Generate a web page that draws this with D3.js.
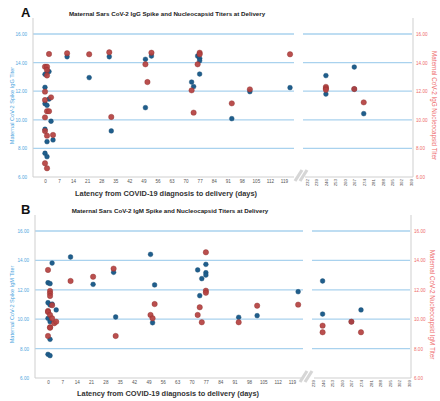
<!DOCTYPE html>
<html><head><meta charset="utf-8">
<script src="https://cdn.jsdelivr.net/npm/d3@7"></script>
<style>
body{margin:0;background:#fff;}
svg{display:block;font-family:"Liberation Sans",Arial,sans-serif;}
</style></head>
<body><svg id="c" width="440" height="401"></svg>
<script>
// ---------- DATA ----------
const yTicks = [6, 8, 10, 12, 14, 16];
const xTicksSeg1 = [0, 7, 14, 21, 28, 35, 42, 49, 56, 63, 70, 77, 84, 91, 98, 105, 112, 119];
const xTicksSeg2A = [232, 239, 246, 253, 260, 267, 274, 281, 288, 295, 302, 309];
const xTicksSeg2B = [239, 246, 253, 260, 267, 274, 281, 288, 295, 302, 309];

// Panel A: IgG  [latency days, titer]
const spikeIgG = [
  [1,13.3],[2,13.37],[0,13.18],[0,12.27],[2,11.45],[0,11.13],[1,11.01],[3,9.9],[0,9.34],
  [1,8.47],[4,8.59],[0,7.66],[1,7.42],
  [11,14.41],[22,12.95],[32,14.41],[33,9.22],[50,14.23],[53,14.46],[50,10.85],
  [73,12.64],[74,12.32],[76,14.46],[77,14.3],[77,14.13],[77,13.2],
  [93,10.08],[102,11.97],[122,12.25],
  [246,13.09],[246,11.8],[267,13.69],[267,12.15],[274,10.43]
];
const nucleoIgG = [
  [2,14.6],[0,13.71],[1,13.71],[1,13.48],[1,13.1],[0,11.97],[3,11.57],[0,11.38],
  [1,10.6],[2,10.6],[0,10.17],[0,9.22],[1,8.89],[4,8.94],[0,6.96],[1,6.61],
  [11,14.65],[22,14.58],[32,14.72],[33,10.2],
  [50,13.88],[53,14.69],[51,12.64],
  [73,12.06],[74,10.5],[77,14.69],[77,14.58],[76,13.88],
  [93,11.15],[102,12.13],[122,14.58],
  [246,12.3],[246,12.2],[246,12.1],[267,12.15],[274,11.22]
];

// Panel B: IgM
const spikeIgM = [
  [2,13.82],[0,12.48],[1,12.42],[0,11.12],[1,10.97],[2,11.03],[4,10.63],[0,10.06],
  [1,9.83],[1,8.63],[0,7.61],[1,7.52],
  [11,14.23],[22,12.37],[32,13.19],[33,10.15],[50,14.41],[51,9.76],[52,12.33],
  [73,13.35],[77,13.73],[77,13.16],[77,13.0],[75,12.76],[74,11.6],
  [93,10.13],[102,10.24],[122,11.87],
  [246,12.6],[246,10.35],[267,9.83],[274,10.63]
];
const nucleoIgM = [
  [0,13.35],[1,11.92],[1,11.76],[1,11.58],[2,10.95],[0,10.56],[0,10.49],[1,10.29],
  [2,10.06],[3,9.72],[4,9.83],[1,9.45],[1,9.42],[0,8.86],
  [11,12.6],[22,12.89],[32,13.44],[33,8.86],
  [50,10.29],[51,10.06],[52,11.03],
  [77,14.55],[77,11.94],[77,11.8],[74,10.81],[73,10.29],[75,9.79],
  [93,9.79],[102,10.92],[122,10.99],
  [246,9.56],[246,9.11],[267,9.83],[274,9.11]
];

const titleA = "Maternal Sars CoV-2 IgG Spike and Nucleocapsid Titers at Delivery";
const titleB = "Maternal Sars CoV-2 IgM Spike and Nucleocapsid Titers at Delivery";
const xTitle = "Latency from COVID-19 diagnosis to delivery (days)";

// ---------- STYLE ----------
const BLUE = "#1f5e8c", RED = "#b4403f";
const GRID = "#a9d2ee", LBLUE = "#4ea6de", LRED = "#ee6a6a", AX = "#cfcfcf";

const svg = d3.select("#c");

function panel(o){
  const g = svg.append("g");
  const y = d3.scaleLinear().domain([6,16]).range([o.bottom, o.top16]);
  const x1 = d3.scaleLinear().domain([0,119]).range(o.x1r);
  const x2 = d3.scaleLinear().domain([o.seg2[0], 309]).range(o.x2r);
  const xp = d => d < 200 ? x1(d) : x2(d);

  // grid
  yTicks.slice(1).forEach(t => {
    g.append("line").attr("x1", o.left).attr("x2", o.seg1End).attr("y1", y(t)).attr("y2", y(t))
      .attr("stroke", GRID).attr("stroke-width", 1.3);
    g.append("line").attr("x1", o.seg2Start).attr("x2", o.right - 1).attr("y1", y(t)).attr("y2", y(t))
      .attr("stroke", GRID).attr("stroke-width", 1.3);
  });

  // axes lines
  g.append("line").attr("x1", o.left).attr("x2", o.left).attr("y1", o.axTop).attr("y2", o.bottom).attr("stroke", AX);
  g.append("line").attr("x1", o.right).attr("x2", o.right).attr("y1", o.axTop).attr("y2", o.bottom).attr("stroke", AX);

  // left y axis
  const ly = g.append("g").attr("transform", `translate(${o.left},0)`)
    .call(d3.axisLeft(y).tickValues(yTicks).tickSize(0).tickPadding(6).tickFormat(d3.format(".2f")));
  ly.select(".domain").remove();
  ly.selectAll("text").attr("fill", LBLUE).style("font-size", "4.6px");

  const ry = g.append("g").attr("transform", `translate(${o.right},0)`)
    .call(d3.axisRight(y).tickValues(yTicks).tickSize(0).tickPadding(3).tickFormat(d3.format(".2f")));
  ry.select(".domain").remove();
  ry.selectAll("text").attr("fill", LRED).style("font-size", "4.6px");

  // x axis seg1
  const ax1 = g.append("g").attr("transform", `translate(0,${o.bottom})`)
    .call(d3.axisBottom(x1).tickValues(xTicksSeg1).tickSize(0).tickPadding(3));
  ax1.select(".domain").remove();
  ax1.selectAll("text").attr("fill", "#555").style("font-size", "4.6px");
  g.append("line").attr("x1", o.left).attr("x2", o.seg1End).attr("y1", o.bottom).attr("y2", o.bottom).attr("stroke", AX);

  const ax2 = g.append("g").attr("transform", `translate(0,${o.bottom})`)
    .call(d3.axisBottom(x2).tickValues(o.seg2).tickSize(0).tickPadding(0));
  ax2.select(".domain").remove();
  ax2.selectAll("text").attr("fill", "#555").style("font-size", "4.4px")
    .attr("text-anchor", "end").attr("dy", "0.32em").attr("transform", "translate(0,2) rotate(-90)").attr("y", 0).attr("x", 0);
  g.append("line").attr("x1", o.seg2Start + 2).attr("x2", o.right).attr("y1", o.bottom).attr("y2", o.bottom).attr("stroke", AX);

  // break mark
  const bx = o.breakX, by = o.bottom;
  [0, 5].forEach(dx => {
    g.append("line").attr("x1", bx + dx - 3).attr("y1", by + 4).attr("x2", bx + dx + 4).attr("y2", by - 7)
      .attr("stroke", "#d6d6d6").attr("stroke-width", 3.2);
  });

  // points
  g.selectAll(".sp").data(o.spike).join("circle")
    .attr("cx", d => xp(d[0])).attr("cy", d => y(d[1])).attr("r", 2.4)
    .attr("fill", BLUE).attr("stroke", "#174a6e").attr("stroke-width", 0.4);
  g.selectAll(".nc").data(o.nucleo).join("circle")
    .attr("cx", d => xp(d[0])).attr("cy", d => y(d[1])).attr("r", 2.7)
    .attr("fill", RED).attr("fill-opacity", 0.92).attr("stroke", "#8e2f2e").attr("stroke-width", 0.4);

  // titles
  g.append("text").attr("x", o.letterX).attr("y", o.letterY).text(o.letter)
    .style("font-size", "13px").style("font-weight", "bold").attr("fill", "#111");
  g.append("text").attr("x", o.titleX).attr("y", o.titleY).attr("text-anchor", "middle").text(o.title)
    .style("font-size", "6.2px").style("font-weight", "bold").attr("fill", "#222");
  g.append("text").attr("x", o.xTitleX).attr("y", o.xTitleY).attr("text-anchor", "middle").text(xTitle)
    .style("font-size", "7.4px").style("font-weight", "bold").attr("fill", "#333");
  const cy = (o.bottom + o.top16) / 2;
  g.append("text").attr("transform", `translate(${o.lTitleX},${cy}) rotate(-90)`).attr("text-anchor", "middle")
    .text(o.lTitle).style("font-size", "5.6px").attr("fill", LBLUE);
  g.append("text").attr("transform", `translate(${o.rTitleX},${cy}) rotate(90)`).attr("text-anchor", "middle")
    .text(o.rTitle).style("font-size", "6.3px").attr("fill", LRED);
}

panel({
  letter: "A", letterX: 21, letterY: 17, title: titleA, titleX: 167, titleY: 16,
  xTitleX: 166, xTitleY: 196,
  lTitle: "Maternal CoV-2 Spike IgG Titer", rTitle: "Maternal CoV-2 IgG Nucleocapsid Titer",
  lTitleX: 14, rTitleX: 432,
  left: 33, right: 413, seg1End: 294, seg2Start: 303, breakX: 298,
  top16: 34, bottom: 177, axTop: 18,
  x1r: [45, 284], x2r: [307, 411], seg2: xTicksSeg2A,
  spike: spikeIgG, nucleo: nucleoIgG
});

panel({
  letter: "B", letterX: 21, letterY: 214, title: titleB, titleX: 170, titleY: 213,
  xTitleX: 168, xTitleY: 396,
  lTitle: "Maternal CoV-2 Spike IgM Titer", rTitle: "Maternal CoV-2 Nucleocapsid IgM Titer",
  lTitleX: 14, rTitleX: 430,
  left: 35, right: 411, seg1End: 303, seg2Start: 312, breakX: 303,
  top16: 231, bottom: 378, axTop: 215,
  x1r: [48, 292], x2r: [313, 409], seg2: xTicksSeg2B,
  spike: spikeIgM, nucleo: nucleoIgM
});
</script></body></html>
